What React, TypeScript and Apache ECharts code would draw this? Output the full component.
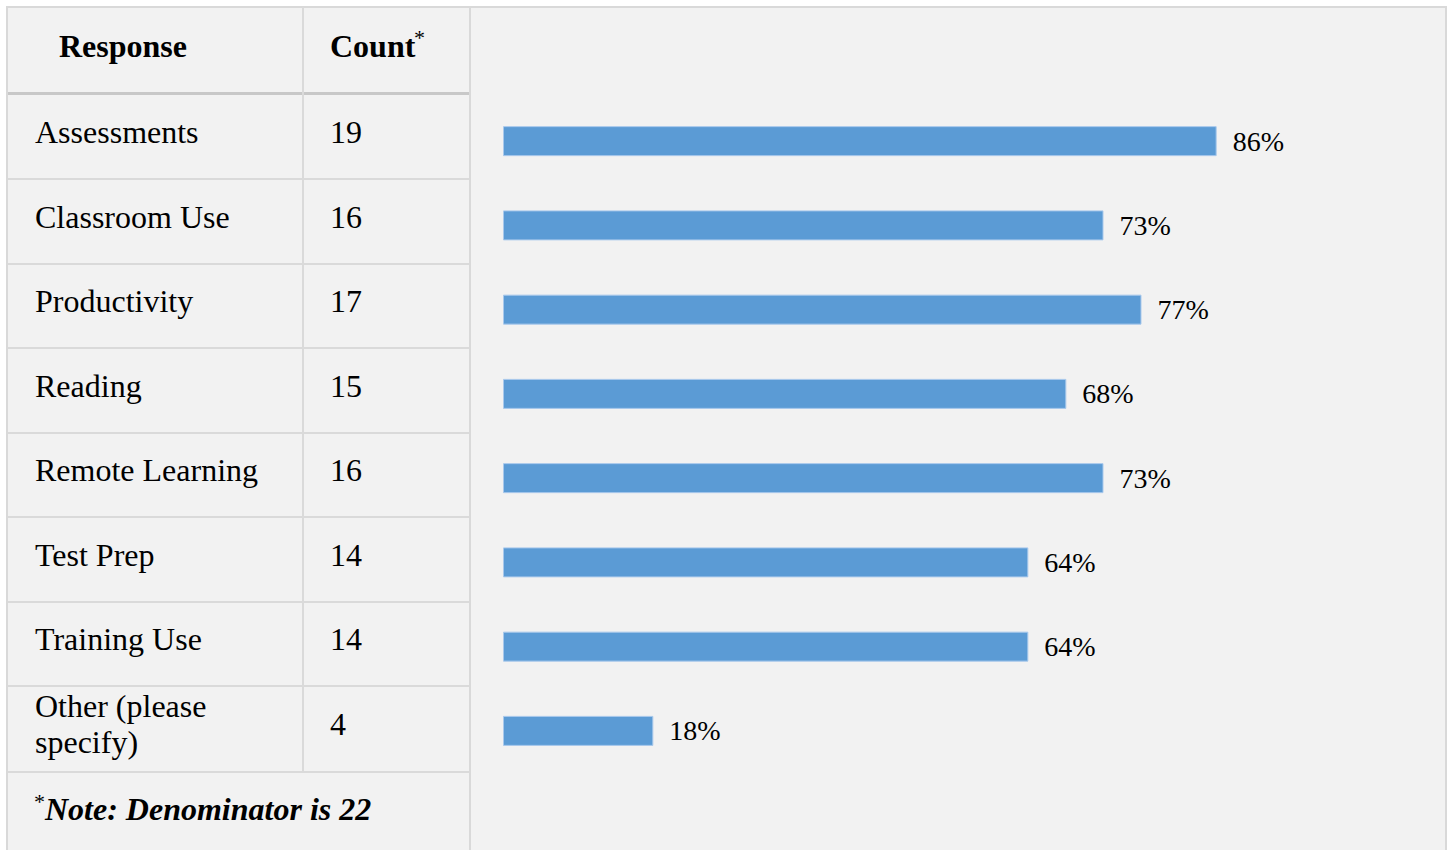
import React, { useEffect, useRef } from "react";
import * as echarts from "echarts";

const responses: string[] = [
  "Assessments",
  "Classroom Use",
  "Productivity",
  "Reading",
  "Remote Learning",
  "Test Prep",
  "Training Use",
  "Other (please\nspecify)",
];
const counts: number[] = [19, 16, 17, 15, 16, 14, 14, 4];
const percents: number[] = [86.4, 72.7, 77.3, 68.2, 72.7, 63.6, 63.6, 18.2];
const headers: string[] = ["Response", "Count"];
const noteText = "Note: Denominator is 22";

const FONT = "'Liberation Serif', 'Times New Roman', serif";

export default function App() {
  const ref = useRef<HTMLDivElement>(null);

  useEffect(() => {
    document.body.style.margin = "0";
    const chart = echarts.init(ref.current!, undefined, { renderer: "svg" });

    const rowLines = [179, 264, 348, 433, 517, 602, 686, 772];
    const rowTextY = [132, 217, 301, 386, 470, 555, 639, 724];

    const graphics: any[] = [];
    graphics.push({
      type: "rect",
      shape: { x: 7, y: 7, width: 1439, height: 850 },
      style: { fill: "#f2f2f2", stroke: "#d9d9d9", lineWidth: 2 },
      silent: true,
      z: -10,
    });
    graphics.push({
      type: "line",
      shape: { x1: 8, y1: 93.5, x2: 469, y2: 93.5 },
      style: { stroke: "#c8c8c8", lineWidth: 3 },
      z: -5,
    });
    rowLines.forEach((y) => {
      graphics.push({
        type: "line",
        shape: { x1: 8, y1: y, x2: 469, y2: y },
        style: { stroke: "#dadada", lineWidth: 2 },
        z: -5,
      });
    });
    graphics.push({
      type: "line",
      shape: { x1: 303, y1: 7, x2: 303, y2: 772 },
      style: { stroke: "#dadada", lineWidth: 2 },
      z: -5,
    });
    graphics.push({
      type: "line",
      shape: { x1: 470, y1: 7, x2: 470, y2: 850 },
      style: { stroke: "#d9d9d9", lineWidth: 2 },
      z: -5,
    });
    graphics.push({
      type: "text",
      x: 59,
      y: 46,
      style: {
        text: headers[0],
        font: `bold 32px ${FONT}`,
        fill: "#000",
        verticalAlign: "middle",
        align: "left",
      },
    });
    graphics.push({
      type: "text",
      x: 330,
      y: 46,
      style: {
        text: headers[1],
        font: `bold 32px ${FONT}`,
        fill: "#000",
        verticalAlign: "middle",
        align: "left",
      },
    });
    graphics.push({
      type: "text",
      x: 414,
      y: 37,
      style: { text: "*", font: `22px ${FONT}`, fill: "#000", verticalAlign: "middle" },
    });
    responses.forEach((r, i) => {
      const multi = r.includes("\n");
      graphics.push({
        type: "text",
        x: 35,
        y: rowTextY[i],
        style: {
          text: r,
          font: `32px ${FONT}`,
          fill: "#000",
          verticalAlign: "middle",
          align: "left",
          lineHeight: multi ? 36 : undefined,
        },
      });
      graphics.push({
        type: "text",
        x: 330,
        y: rowTextY[i],
        style: {
          text: String(counts[i]),
          font: `32px ${FONT}`,
          fill: "#000",
          verticalAlign: "middle",
          align: "left",
        },
      });
    });
    graphics.push({
      type: "text",
      x: 34,
      y: 801,
      style: { text: "*", font: `22px ${FONT}`, fill: "#000", verticalAlign: "middle" },
    });
    graphics.push({
      type: "text",
      x: 45,
      y: 809,
      style: {
        text: noteText,
        font: `italic bold 32px ${FONT}`,
        fill: "#000",
        verticalAlign: "middle",
        align: "left",
      },
    });

    chart.setOption({
      animation: false,
      backgroundColor: "#ffffff",
      graphic: graphics,
      grid: { left: 503, top: 99, width: 826, height: 674, containLabel: false },
      xAxis: {
        type: "value",
        min: 0,
        max: 100,
        show: false,
      },
      yAxis: {
        type: "category",
        data: responses,
        inverse: true,
        show: false,
      },
      series: [
        {
          type: "bar",
          data: percents,
          barWidth: 30,
          itemStyle: { color: "#5b9bd5", borderColor: "#a9c9ec", borderWidth: 1 },
          label: {
            show: true,
            position: "right",
            distance: 16,
            formatter: (p: any) => `${Math.round(p.value)}%`,
            fontFamily: FONT,
            fontSize: 28,
            color: "#000",
          },
        },
      ],
    });

    return () => chart.dispose();
  }, []);

  return <div ref={ref} style={{ width: 1448, height: 850 }} />;
}
